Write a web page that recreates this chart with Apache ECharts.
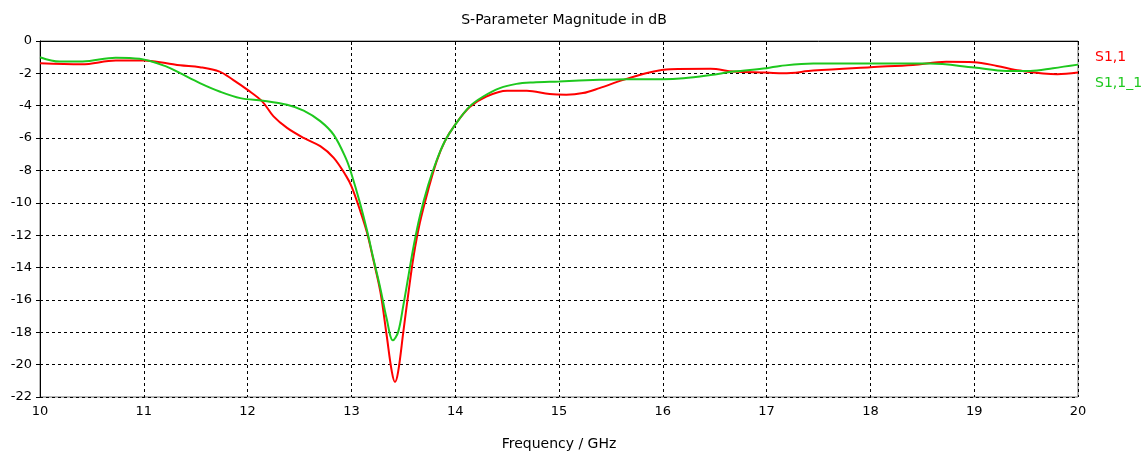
<!DOCTYPE html>
<html>
<head>
<meta charset="utf-8">
<script src="https://cdn.jsdelivr.net/npm/echarts@6/dist/echarts.min.js"></script>
<style>html,body{margin:0;padding:0;background:#fff;}#c{width:1147px;height:456px;}</style>
</head>
<body>
<div id="c"></div>
<script>
var titleText = 'S-Parameter Magnitude in dB';
var xName = 'Frequency / GHz';
var seriesNames = ['S1,1', 'S1,1_1'];

var freqRed = [10.0,10.4,10.73,11.0,11.22,11.35,11.54,11.73,11.86,12.0,12.14,12.25,12.38,12.54,12.7,12.83,12.95,13.0,13.08,13.15,13.21,13.28,13.34,13.39,13.42,13.45,13.5,13.55,13.6,13.66,13.74,13.82,13.9,14.0,14.14,14.3,14.5,14.69,14.91,15.07,15.23,15.39,15.62,15.88,16.07,16.46,16.68,17.0,17.16,17.45,18.0,18.41,18.73,19.0,19.22,19.44,19.8,20.0];
var s11Red = [-1.37,-1.44,-1.21,-1.21,-1.37,-1.5,-1.62,-1.89,-2.4,-3.02,-3.73,-4.66,-5.37,-5.99,-6.5,-7.22,-8.35,-8.97,-10.4,-11.83,-13.48,-15.53,-18.2,-20.45,-21.07,-20.45,-17.99,-15.53,-13.27,-11.22,-9.2,-7.45,-6.2,-5.17,-4.08,-3.43,-3.08,-3.08,-3.28,-3.32,-3.22,-2.91,-2.4,-1.93,-1.74,-1.72,-1.89,-1.95,-2.0,-1.83,-1.62,-1.48,-1.29,-1.31,-1.54,-1.83,-2.05,-1.95];

var freqGreen = [10.0,10.19,10.41,10.73,10.96,11.22,11.35,11.54,11.73,11.93,12.15,12.38,12.54,12.7,12.83,12.95,13.0,13.08,13.15,13.21,13.28,13.34,13.4,13.45,13.5,13.55,13.6,13.66,13.74,13.82,13.9,14.0,14.14,14.27,14.43,14.59,14.75,15.0,15.39,15.65,16.0,16.2,16.46,16.68,17.0,17.13,17.45,18.0,18.57,19.0,19.31,19.54,19.76,20.0];
var s11Green = [-1.0,-1.27,-1.27,-1.03,-1.1,-1.58,-1.99,-2.6,-3.12,-3.53,-3.69,-3.94,-4.3,-4.95,-5.8,-7.3,-8.2,-9.95,-11.7,-13.4,-15.32,-17.17,-18.5,-17.99,-16.35,-14.5,-12.66,-10.81,-8.9,-7.4,-6.2,-5.17,-4.04,-3.43,-2.91,-2.65,-2.56,-2.5,-2.4,-2.36,-2.36,-2.3,-2.1,-1.89,-1.68,-1.54,-1.39,-1.39,-1.39,-1.64,-1.85,-1.85,-1.68,-1.46];

function pairs(xs, ys){ return xs.map(function(x,i){ return [x, ys[i]]; }); }

var FONT = 'DejaVu Sans';
var chart = echarts.init(document.getElementById('c'), null, {renderer:'canvas'});
chart.setOption({
  animation: false,
  backgroundColor: '#ffffff',
  title: {
    text: titleText, left: 559, top: 8, textAlign: 'center',
    textStyle: {fontFamily: FONT, fontSize: 14, fontWeight: 'normal', color: '#000'}
  },
  legend: {
    orient: 'vertical', left: 1085, top: 45, itemGap: 12,
    itemWidth: 0, itemHeight: 0, icon: 'rect',
    textStyle: {fontFamily: FONT, fontSize: 14},
    data: [
      {name: seriesNames[0], textStyle: {color: '#ff0000'}},
      {name: seriesNames[1], textStyle: {color: '#1ec81e'}}
    ]
  },
  grid: {left: 40, right: 69, top: 41, bottom: 58, show: true, borderColor: '#707070', borderWidth: 1, backgroundColor: '#fff'},
  xAxis: {
    type: 'value', min: 10, max: 20, interval: 1,
    name: xName, nameLocation: 'middle', nameGap: 40,
    nameTextStyle: {fontFamily: FONT, fontSize: 14, color: '#000'},
    axisLine: {show: true, lineStyle: {color: '#000', width: 1}},
    axisTick: {show: true, length: 4, lineStyle: {color: '#000'}},
    axisLabel: {fontFamily: FONT, fontSize: 13, color: '#000', margin: 8},
    splitLine: {show: true, lineStyle: {color: '#000', type: [3, 3], width: 1}}
  },
  yAxis: {
    type: 'value', min: -22, max: 0, interval: 2,
    axisLine: {show: true, lineStyle: {color: '#000', width: 1}},
    axisTick: {show: true, length: 4, lineStyle: {color: '#000'}},
    axisLabel: {fontFamily: FONT, fontSize: 13, color: '#000', margin: 8},
    splitLine: {show: true, lineStyle: {color: '#000', type: [3, 3], width: 1}}
  },
  series: [
    {name: seriesNames[0], type: 'line', data: pairs(freqRed, s11Red), smooth: 0.35, showSymbol: false,
     lineStyle: {color: '#ff0000', width: 2}, itemStyle: {color: '#ff0000'}, z: 3},
    {name: seriesNames[1], type: 'line', data: pairs(freqGreen, s11Green), smooth: 0.35, showSymbol: false,
     lineStyle: {color: '#1ec81e', width: 2}, itemStyle: {color: '#1ec81e'}, z: 4}
  ]
});
</script>
</body>
</html>
